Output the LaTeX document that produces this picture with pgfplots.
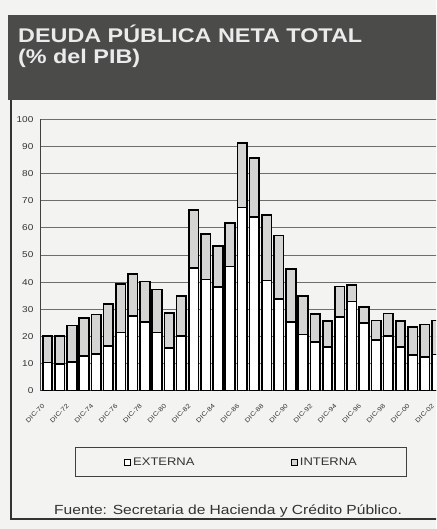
\documentclass[border=0pt]{standalone}
\usepackage{pgfplots}
\pgfplotsset{compat=1.18}
\usepackage{fontspec}
\setmainfont{Liberation Sans}[FakeStretch=1.18]
\definecolor{paper}{HTML}{F3F3F1}
\definecolor{hdr}{HTML}{4B4B49}
\definecolor{intc}{HTML}{D4D4D2}
\definecolor{gridc}{HTML}{6E6E6E}
\pgfplotstableread{
x ext int
0 10.4 9.7
1 9.8 10.3
2 10.6 13.4
3 12.8 13.9
4 13.5 14.6
5 16.5 15.4
6 21.4 17.9
7 27.5 15.4
8 25.4 14.8
9 21.4 15.9
10 15.8 12.7
11 20.1 14.8
12 45.1 21.5
13 41.0 16.7
14 38.3 15.1
15 45.8 16.1
16 67.5 23.7
17 64.1 21.7
18 40.6 24.1
19 33.8 23.4
20 25.2 19.7
21 20.7 14.1
22 17.9 10.4
23 16.0 9.6
24 27.2 11.2
25 32.9 6.1
26 25.0 5.8
27 18.6 7.3
28 20.1 8.3
29 16.0 9.6
30 13.1 10.4
31 12.5 11.9
32 13.3 12.6
}\datatab
\begin{document}
\begin{tikzpicture}
\path[use as bounding box] (0pt,0pt) rectangle (436pt,529pt);
\clip (0pt,0pt) rectangle (436pt,529pt);
\fill[paper] (0pt,0pt) rectangle (436pt,529pt);
\fill[hdr] (8pt,429pt) rectangle (450pt,514pt);
\node[anchor=base west, inner sep=0, text=white!92!black, font=\bfseries\fontsize{19.8}{23}\selectfont] at (18pt,486pt) {DEUDA PÚBLICA NETA TOTAL};
\node[anchor=base west, inner sep=0, text=white!92!black, font=\bfseries\fontsize{19.8}{23}\selectfont] at (18pt,465pt) {(\% del PIB)};
\draw[black!80, line width=1.3pt] (11pt,429pt) -- (11pt,10pt) -- (450pt,10pt);
\begin{axis}[
  at={(40pt,138.3pt)}, anchor=south west,
  scale only axis, width=404.3pt, height=271.4pt,
  xmin=-0.62, xmax=32.6, ymin=0, ymax=100,
  ybar stacked, bar width=9.6pt,
  axis lines=left, axis line style={-, black!75, line width=0.9pt},
  tick style={draw=none},
  ymajorgrids, major grid style={gridc, line width=0.9pt},
  ytick={0,10,...,100},
  xtick={0,2,...,32},
  xticklabels={DIC-70,DIC-72,DIC-74,DIC-76,DIC-78,DIC-80,DIC-82,DIC-84,DIC-86,DIC-88,DIC-90,DIC-92,DIC-94,DIC-96,DIC-98,DIC-00,DIC-02},
  /pgf/number format/assume math mode=true,
  yticklabel style={font=\fontsize{8.5}{10}\selectfont, text=black!80, xshift=-1pt},
  xticklabel style={font=\fontsize{6.3}{8}\selectfont, text=black!80, rotate=45, anchor=north east, xshift=-8pt, yshift=0pt},
  legend columns=2,
  legend style={at={(axis description cs:0.498,-0.264)}, anchor=center, draw=black!75, line width=0.9pt, fill=paper, inner xsep=48pt, inner ysep=8pt, font=\fontsize{11}{13}\selectfont, text=black!80, /tikz/every even column/.append style={column sep=94pt}},
  legend image code/.code={\draw[#1, draw=black, line width=1.4pt] (0pt,-3pt) rectangle (6pt,3pt);},
]
\addplot[fill=white, draw=black, line width=1.7pt] table[x=x, y=ext] {\datatab};
\addlegendentry{EXTERNA}
\addplot[fill=intc, draw=black, line width=1.7pt] table[x=x, y=int] {\datatab};
\addlegendentry{INTERNA}
\end{axis}
\node[anchor=base west, inner sep=0, text=black!80, font=\fontsize{13.2}{15}\selectfont] at (54pt,14pt) {Fuente: Secretaria de Hacienda y Crédito Público.};
\end{tikzpicture}
\end{document}
